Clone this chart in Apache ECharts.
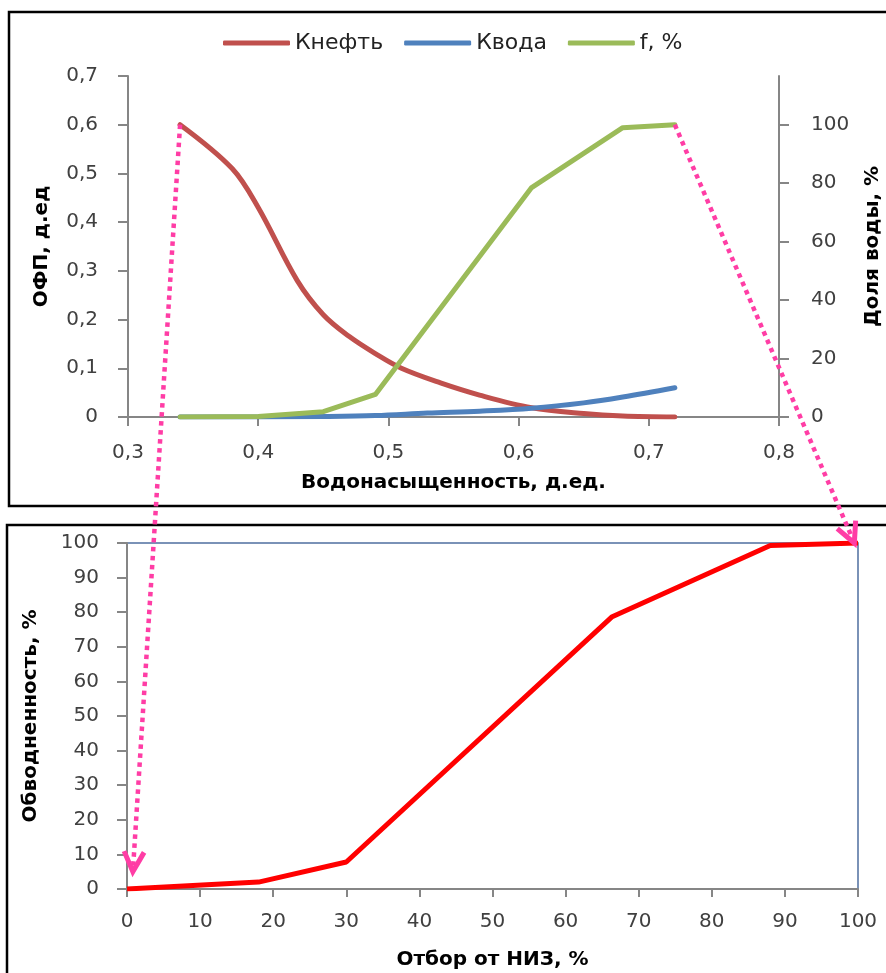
<!DOCTYPE html>
<html>
<head>
<meta charset="utf-8">
<script src="https://cdn.jsdelivr.net/npm/echarts@6/dist/echarts.min.js"></script>
<style>
html, body { margin: 0; padding: 0; background: #fff; }
#chart { width: 886px; height: 973px; }
</style>
</head>
<body>
<div id="chart"></div>
<script>
// верхний график: ОФП и доля воды от водонасыщенности
const swOil = [0.34, 0.38, 0.40, 0.43, 0.45, 0.47, 0.49, 0.51, 0.54, 0.57, 0.61, 0.65, 0.68, 0.72];
const kOil = [0.60, 0.51, 0.43, 0.28, 0.21, 0.165, 0.13, 0.10, 0.07, 0.045, 0.019, 0.007, 0.002, 0];
const swWater = [0.34, 0.40, 0.45, 0.49, 0.53, 0.57, 0.61, 0.65, 0.68, 0.72];
const kWater = [0, 0, 0.001, 0.003, 0.008, 0.012, 0.018, 0.029, 0.041, 0.06];
const swF = [0.34, 0.40, 0.45, 0.49, 0.61, 0.68, 0.72];
const fWater = [0, 0.2, 1.8, 7.7, 78.5, 99, 100];
const rightTicks = [0, 20, 40, 60, 80, 100];

// нижний график: обводненность от отбора НИЗ
const recovery = [0, 18, 30, 66.3, 88, 100];
const waterCut = [0, 2, 7.8, 78.6, 99.3, 100];

const zip = (xs, ys) => xs.map((x, i) => [x, ys[i]]);

const axisGray = '#868686';
const pink = '#FF3DA5';
const font = 'DejaVu Sans';
const labelStyle = { fontFamily: font, fontSize: 20, color: '#404040' };
const nameStyle = { fontFamily: font, fontSize: 20, fontWeight: 'bold', color: '#000' };
const line = { lineStyle: { color: axisGray, width: 2 } };
const tick = (len) => ({ show: true, inside: false, length: len, lineStyle: { color: axisGray, width: 2 } });
const comma = (v) => String(+v.toFixed(1)).replace('.', ',');

const chart = echarts.init(document.getElementById('chart'));

chart.setOption({
    animation: false,
    backgroundColor: '#fff',
    legend: {
        data: ['Кнефть', 'Квода', 'f, %'],
        left: 223, top: 32, padding: 0,
        icon: 'roundRect', itemWidth: 67, itemHeight: 5, itemGap: 21,
        textStyle: { fontFamily: font, fontSize: 22, color: '#222' }
    },
    grid: [
        { left: 128, right: 107, top: 76, height: 341, outerBoundsMode: 'none' },
        { left: 127, right: 28, top: 543, height: 346, outerBoundsMode: 'none', show: true,
          borderColor: '#4F6FA0', borderWidth: 1.5, backgroundColor: 'transparent' }
    ],
    xAxis: [
        { gridIndex: 0, type: 'value', min: 0.3, max: 0.8, interval: 0.1,
          name: 'Водонасыщенность, д.ед.', nameLocation: 'middle', nameGap: 56, nameTextStyle: nameStyle,
          axisLine: Object.assign({ onZero: false }, line), axisTick: tick(9),
          axisLabel: Object.assign({ margin: 26, formatter: comma }, labelStyle),
          splitLine: { show: false } },
        { gridIndex: 1, type: 'value', min: 0, max: 100, interval: 10,
          name: 'Отбор от НИЗ, %', nameLocation: 'middle', nameGap: 61, nameTextStyle: nameStyle,
          axisLine: Object.assign({ onZero: false }, line), axisTick: tick(8),
          axisLabel: Object.assign({ margin: 23 }, labelStyle),
          splitLine: { show: false } }
    ],
    yAxis: [
        { gridIndex: 0, type: 'value', min: 0, max: 0.7, interval: 0.1,
          name: 'ОФП, д.ед', nameLocation: 'middle', nameGap: 76, nameRotate: 90, nameTextStyle: nameStyle,
          axisLine: Object.assign({ show: true }, line), axisTick: tick(10),
          axisLabel: Object.assign({ margin: 30, formatter: comma }, labelStyle),
          splitLine: { show: false } },
        { gridIndex: 0, type: 'value', position: 'right', min: 0, max: 700 / 6, interval: 20,
          name: 'Доля воды, %', nameLocation: 'middle', nameGap: 84, nameRotate: 90, nameTextStyle: nameStyle,
          axisLine: Object.assign({ show: true }, line),
          axisTick: Object.assign(tick(10), { customValues: rightTicks }),
          axisLabel: Object.assign({ margin: 32, customValues: rightTicks }, labelStyle),
          splitLine: { show: false } },
        { gridIndex: 1, type: 'value', min: 0, max: 100, interval: 10,
          name: 'Обводненность, %', nameLocation: 'middle', nameGap: 86, nameRotate: 90, nameTextStyle: nameStyle,
          axisLine: Object.assign({ show: true }, line), axisTick: tick(10),
          axisLabel: Object.assign({ margin: 28 }, labelStyle),
          splitLine: { show: false } }
    ],
    series: [
        { name: 'Кнефть', type: 'line', xAxisIndex: 0, yAxisIndex: 0, data: zip(swOil, kOil),
          smooth: 0.35, symbol: 'none', color: '#C0504D',
          lineStyle: { width: 5, cap: 'round', join: 'round' } },
        { name: 'Квода', type: 'line', xAxisIndex: 0, yAxisIndex: 0, data: zip(swWater, kWater),
          smooth: 0.35, symbol: 'none', color: '#4F81BD',
          lineStyle: { width: 5, cap: 'round', join: 'round' } },
        { name: 'f, %', type: 'line', xAxisIndex: 0, yAxisIndex: 1, data: zip(swF, fWater),
          symbol: 'none', color: '#9BBB59',
          lineStyle: { width: 5, cap: 'round', join: 'round' } },
        { name: 'Обводненность', type: 'line', xAxisIndex: 1, yAxisIndex: 2, data: zip(recovery, waterCut),
          symbol: 'none', color: '#FF0000',
          lineStyle: { width: 5, join: 'round' } }
    ]
});

// пунктирные стрелки: начало и конец кривой f переносятся на нижний график
function arrow(p0, p1) {
    const dx = p1[0] - p0[0], dy = p1[1] - p0[1];
    const len = Math.hypot(dx, dy);
    const ux = dx / len, uy = dy / len;
    const bx = p1[0] - ux * 20, by = p1[1] - uy * 20;
    const nx = -uy, ny = ux;
    return [
        { type: 'polyline', z: 100, shape: { points: [p0, [p1[0] - ux * 6, p1[1] - uy * 6]] },
          style: { stroke: pink, lineWidth: 4.5, lineDash: [4.5, 4.5], fill: null } },
        { type: 'polyline', z: 100, shape: { points: [[bx + nx * 10, by + ny * 10], p1, [bx - nx * 10, by - ny * 10]] },
          style: { stroke: pink, lineWidth: 5, lineJoin: 'miter', fill: null } }
    ];
}

const a1from = chart.convertToPixel({ xAxisIndex: 0, yAxisIndex: 0 }, [swOil[0], kOil[0]]);
const a1to = chart.convertToPixel({ xAxisIndex: 1, yAxisIndex: 2 }, [0.8, 5]);
const a2from = chart.convertToPixel({ xAxisIndex: 0, yAxisIndex: 1 }, [swF[swF.length - 1], fWater[fWater.length - 1]]);
const a2to = chart.convertToPixel({ xAxisIndex: 1, yAxisIndex: 2 }, [99.5, 100]);

chart.setOption({
    graphic: [
        { type: 'rect', z: 50, shape: { x: 9, y: 12, width: 900, height: 494 },
          style: { stroke: '#000', lineWidth: 2.5, fill: null } },
        { type: 'rect', z: 50, shape: { x: 7, y: 525, width: 900, height: 500 },
          style: { stroke: '#000', lineWidth: 2.5, fill: null } }
    ].concat(arrow(a1from, a1to), arrow(a2from, a2to))
});
</script>
</body>
</html>
